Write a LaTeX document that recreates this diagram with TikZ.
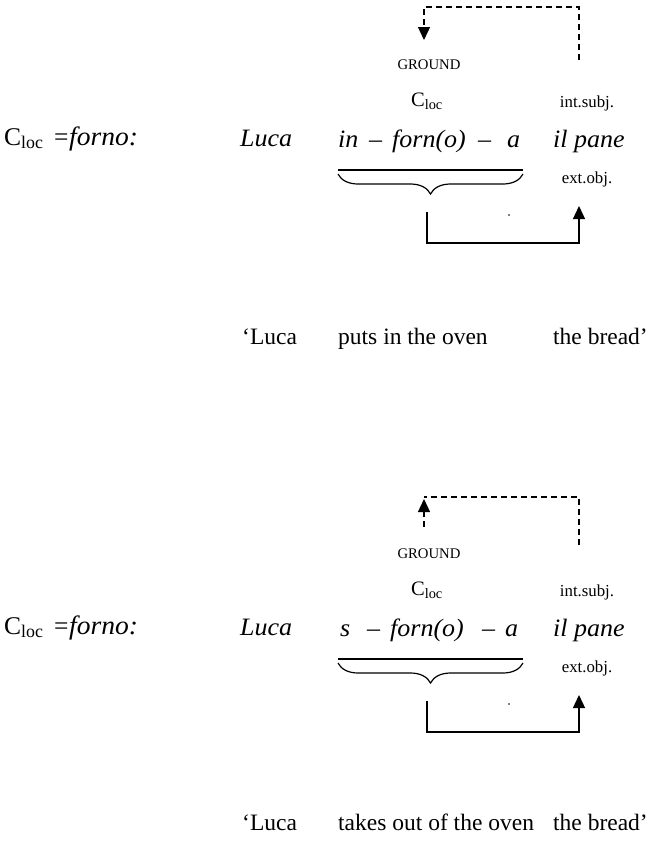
\documentclass[tikz,border=0pt]{standalone}
\usepackage{fontspec}
\setmainfont{Liberation Serif}[ItalicFeatures={FakeStretch=1.04}]
\usetikzlibrary{arrows.meta,decorations.pathreplacing}

\tikzset{
  txt/.style={inner sep=0pt, anchor=base west},
  mainit/.style={txt, font=\fontsize{25}{29}\selectfont\itshape},
  lbl/.style={txt, font=\fontsize{25.5}{29}\selectfont},
  lblit/.style={txt, font=\fontsize{26.5}{30}\selectfont\itshape},
  gloss/.style={txt, font=\fontsize{23.5}{28}\selectfont},
  smalltag/.style={inner sep=0pt, anchor=base, font=\fontsize{16.8}{20}\selectfont},
  cloc/.style={inner sep=0pt, anchor=base, font=\fontsize{20.5}{24}\selectfont},
  grd/.style={inner sep=0pt, anchor=base, font=\fontsize{14.7}{17}\selectfont},
  bar/.style={line width=1.5pt},
  brc/.style={line width=1.2pt, decorate, decoration={brace, amplitude=20pt}},
  conn/.style={line width=1.3pt, -{Triangle[width=12pt,length=13pt]}},
  dashconn/.style={line width=1.3pt, dash pattern=on 6pt off 4pt},
  tip/.style={-{Triangle[width=12pt,length=13pt]}}
}

\begin{document}
\begin{tikzpicture}[x=1pt,y=-1pt]
\useasboundingbox (0,0) rectangle (648,841);

% ---------- first example: in-forn(o)-a ----------
\node[lbl]    (aLab)  at (4,145)   {C\textsubscript{loc}};
\node[lbl]    (aEq)   at (54,145)  {=};
\node[lblit]  (aVal)  at (69,145)  {forno:};
\node[mainit] (aLuca) at (240,146) {Luca};
\node[mainit] (aIn)   at (338,147) {in};
\node[mainit] (aD1)   at (369,147) {–};
\node[mainit] (aForn) at (392,147) {forn(o)};
\node[mainit] (aD2)   at (478,147) {–};
\node[mainit] (aA)    at (507,147) {a};
\node[mainit] (aPane) at (553,147) {il pane};
\node[cloc]   (aCloc) at (427,106) {C\textsubscript{loc}};
\node[smalltag] (aInt) at (587,107) {int.subj.};
\node[smalltag] (aExt) at (587,183) {ext.obj.};
\node[grd]    (aGround) at (429,69) {GROUND};

\coordinate (aBarL) at (338,170);
\coordinate (aBarR) at (523,170);
\draw[bar] (aBarL) -- (aBarR);
\draw[brc] ([yshift=-4pt]aBarR) -- ([yshift=-4pt]aBarL);
\fill (509,215) circle (0.9);

\coordinate (aFrom) at (427,212);
\coordinate (aTo)   at (579,206);
\draw[conn] (aFrom) -- ++(0,31) -| (aTo);

\coordinate (aDs) at (579,60);
\coordinate (aDe) at (424,40);
\draw[dashconn, tip] (aDs) -- (579,7) -| (aDe);

\node[gloss] (aG1) at (242,344) {‘Luca};
\node[gloss] (aG2) at (338,344) {puts in the oven};
\node[gloss] (aG3) at (553,344) {the bread’};

% ---------- second example: s-forn(o)-a ----------
\begin{scope}[yshift=-489pt]
\node[lbl]    (bLab)  at (4,145)   {C\textsubscript{loc}};
\node[lbl]    (bEq)   at (54,145)  {=};
\node[lblit]  (bVal)  at (69,145)  {forno:};
\node[mainit] (bLuca) at (240,146) {Luca};
\node[mainit] (bS)    at (340,147) {s};
\node[mainit] (bD1)   at (367,147) {–};
\node[mainit] (bForn) at (390,147) {forn(o)};
\node[mainit] (bD2)   at (482,147) {–};
\node[mainit] (bA)    at (505,147) {a};
\node[mainit] (bPane) at (553,147) {il pane};
\node[cloc]   (bCloc) at (427,106) {C\textsubscript{loc}};
\node[smalltag] (bInt) at (587,107) {int.subj.};
\node[smalltag] (bExt) at (587,183) {ext.obj.};
\node[grd]    (bGround) at (429,69) {GROUND};

\coordinate (bBarL) at (338,170);
\coordinate (bBarR) at (523,170);
\draw[bar] (bBarL) -- (bBarR);
\draw[brc] ([yshift=-4pt]bBarR) -- ([yshift=-4pt]bBarL);
\fill (509,215) circle (0.9);

\coordinate (bFrom) at (427,212);
\coordinate (bTo)   at (579,206);
\draw[conn] (bFrom) -- ++(0,31) -| (bTo);

\coordinate (bDs) at (579,56);
\coordinate (bDc) at (424,8);
\draw[dashconn] (bDs) -- (579,8) -- (bDc);
\coordinate (bUp) at (424,38);
\coordinate (bUe) at (424,10);
\draw[dashconn, tip] (bUp) -- (bUe);

\node[gloss] (bG1) at (242,341) {‘Luca};
\node[gloss] (bG2) at (338,341) {takes out of the oven};
\node[gloss] (bG3) at (553,341) {the bread’};
\end{scope}
\end{tikzpicture}
\end{document}
